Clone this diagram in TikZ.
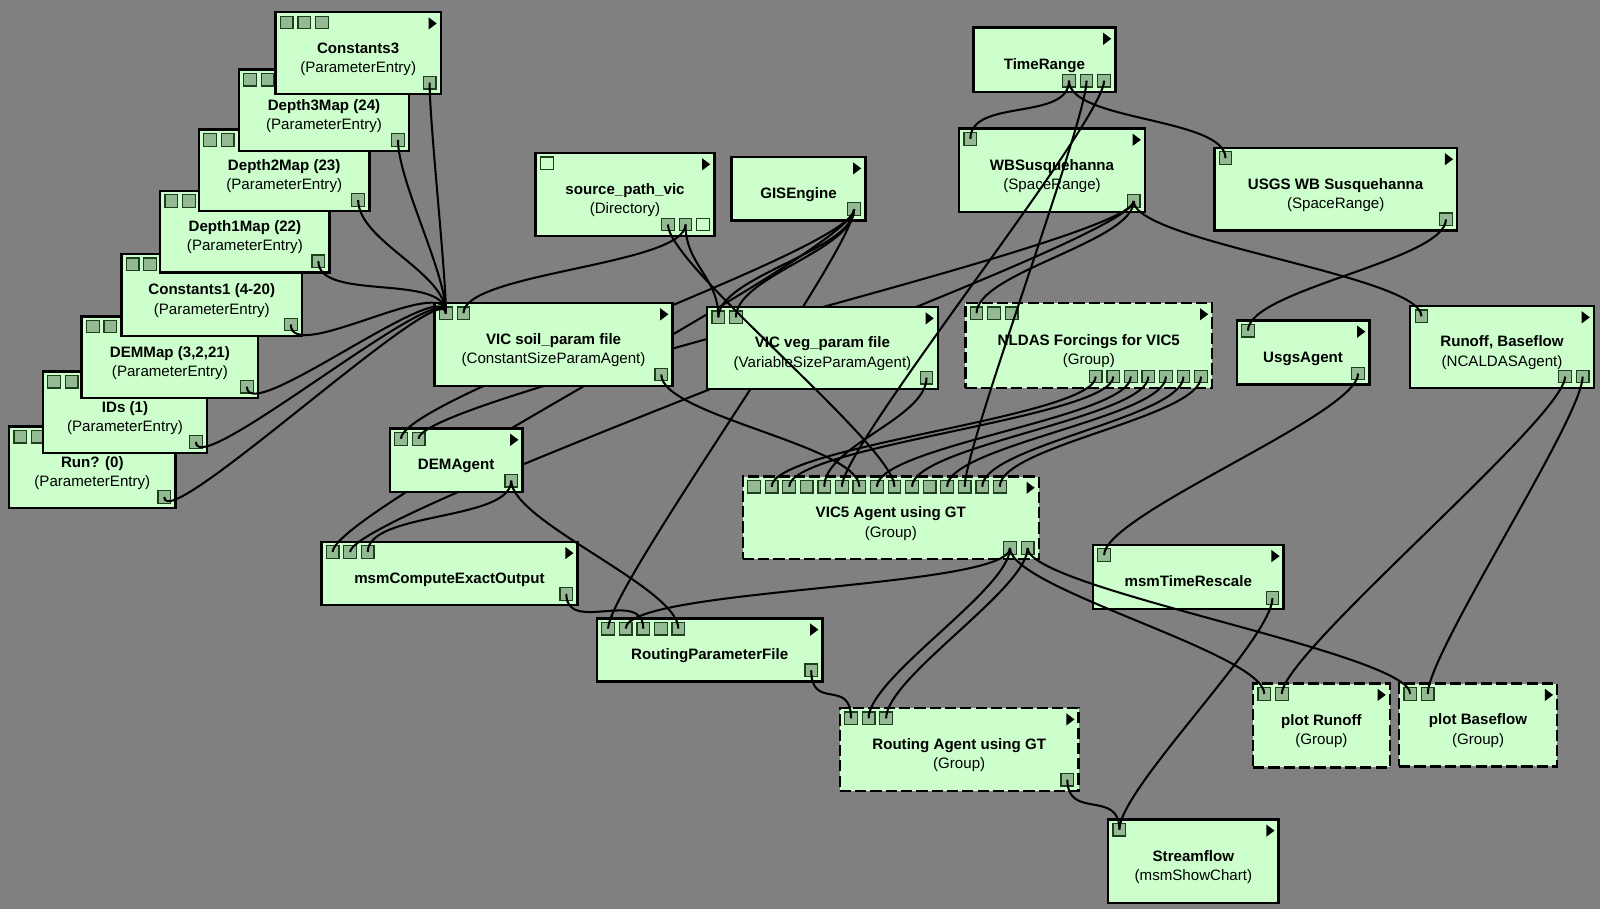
\documentclass[tikz,border=0pt]{standalone}
\usepackage{fontspec}
\setmainfont{Liberation Sans}
\usepackage{xcolor}
\usepackage{tikz}
\usetikzlibrary{calc, backgrounds}

\definecolor{tlo}{RGB}{128,128,128}
\definecolor{ziel}{RGB}{204,255,204}
\definecolor{portziel}{RGB}{148,186,148}
\definecolor{portbrzeg}{RGB}{30,62,30}

% porty wejsciowe (gora), wyjsciowe (dol), strzalka i polaczenie
\newcommand{\wej}[2]{\foreach \i in {1,...,#2}{\node[port] (#1-i\i) at ($(#1.north west)+({17.2*\i-6.2},10)$) {};}}
\newcommand{\wyj}[2]{\foreach \i in {1,...,#2}{\node[port] (#1-o\i) at ($(#1.south east)+({-11-17.2*(#2-\i)},-11)$) {};}}
\newcommand{\strz}[1]{\fill ($(#1.north east)+(-12,5)$) -- ++(8,6) -- ++(-8,6) -- cycle;}
\newcommand{\pol}[2]{\draw[polacz] (#1.center) .. controls +(0,40) and +(0,-40) .. (#2.center);}
\newcommand{\konce}[2]{\begin{scope}\clip (#1.center) circle (14) (#2.center) circle (14); \pol{#1}{#2}\end{scope}}
\newcommand{\tyt}[1]{\rule[-1.5pt]{0pt}{12.5pt}\textbf{#1}}

\begin{document}
\begin{tikzpicture}[x=0.5pt, y=-0.5pt,
  blok/.style={draw, line width=1.2pt, fill=ziel, anchor=north west, outer sep=0pt, inner sep=0pt, align=center, font=\fontsize{7.4}{9.5}\selectfont},
  grupa/.style={blok, dash pattern=on 5.5pt off 2pt},
  port/.style={draw=portbrzeg, fill=portziel, line width=0.6pt, minimum size=6.2pt, inner sep=0pt, outer sep=0pt},
  pusty/.style={port, fill=ziel},
  polacz/.style={draw, line width=1pt}]
\useasboundingbox (0,0) rectangle (1568,891);
\begin{scope}[on background layer]
\fill[tlo] (0,0) rectangle (1568,891);
\end{scope}

% kolumna parametrow
\node[blok, minimum width=81.5pt, minimum height=40pt] (run) at (9,418) {\tyt{Run? (0)}\\(ParameterEntry)};
\wej{run}{3}\wyj{run}{1}\strz{run}
\node[blok, minimum width=80.5pt, minimum height=40pt] (ids) at (42,364) {\tyt{IDs (1)}\\(ParameterEntry)};
\wej{ids}{3}\wyj{ids}{1}\strz{ids}
\node[blok, minimum width=86.5pt, minimum height=40pt] (demmap) at (80,310) {\tyt{DEMMap (3,2,21)}\\(ParameterEntry)};
\wej{demmap}{3}\wyj{demmap}{1}\strz{demmap}
\node[blok, minimum width=88.5pt, minimum height=40pt] (c1) at (119,249) {\tyt{Constants1 (4-20)}\\(ParameterEntry)};
\wej{c1}{3}\wyj{c1}{1}\strz{c1}
\node[blok, minimum width=83pt, minimum height=40pt] (d1) at (157,187) {\tyt{Depth1Map (22)}\\(ParameterEntry)};
\wej{d1}{3}\wyj{d1}{1}\strz{d1}
\node[blok, minimum width=83.5pt, minimum height=40pt] (d2) at (195,127) {\tyt{Depth2Map (23)}\\(ParameterEntry)};
\wej{d2}{3}\wyj{d2}{1}\strz{d2}
\node[blok, minimum width=83.5pt, minimum height=40pt] (d3) at (234,68) {\tyt{Depth3Map (24)}\\(ParameterEntry)};
\wej{d3}{3}\wyj{d3}{1}\strz{d3}
\node[blok, minimum width=81pt, minimum height=40pt] (c3) at (270,12) {\tyt{Constants3}\\(ParameterEntry)};
\wej{c3}{3}\wyj{c3}{1}\strz{c3}

% zrodla
\node[blok, minimum width=87.5pt, minimum height=40.5pt] (srcpath) at (525,150) {\tyt{source\_path\_vic}\\(Directory)};
\node[pusty] (srcpath-i1) at ($(srcpath.north west)+(11,10)$) {};
\wyj{srcpath}{3}\strz{srcpath}
\node[pusty] (srcpath-o3) at (srcpath-o3) {};
\node[blok, minimum width=65.5pt, minimum height=31pt] (gis) at (717,154) {\tyt{GISEngine}};
\wyj{gis}{1}\strz{gis}
\node[blok, minimum width=69.5pt, minimum height=31.5pt] (timer) at (954,27) {\tyt{TimeRange}};
\wyj{timer}{3}\strz{timer}
\node[blok, minimum width=91pt, minimum height=41pt] (wb) at (940,126) {\tyt{WBSusquehanna}\\(SpaceRange)};
\wej{wb}{1}\wyj{wb}{1}\strz{wb}
\node[blok, minimum width=119pt, minimum height=40.5pt] (usgswb) at (1190,145) {\tyt{USGS WB Susquehanna}\\(SpaceRange)};
\wej{usgswb}{1}\wyj{usgswb}{1}\strz{usgswb}

% agenci
\node[blok, minimum width=116.5pt, minimum height=40.5pt] (soil) at (426,297) {\tyt{VIC soil\_param file}\\(ConstantSizeParamAgent)};
\wej{soil}{2}\wyj{soil}{1}\strz{soil}
\node[blok, minimum width=113pt, minimum height=40pt] (veg) at (693,301) {\tyt{VIC veg\_param file}\\(VariableSizeParamAgent)};
\wej{veg}{2}\wyj{veg}{1}\strz{veg}
\node[grupa, minimum width=121pt, minimum height=41.5pt] (nldas) at (946,297) {\tyt{NLDAS Forcings for VIC5}\\(Group)};
\wej{nldas}{3}\wyj{nldas}{7}\strz{nldas}
\node[blok, minimum width=65pt, minimum height=31.5pt] (usgsag) at (1212,314) {\tyt{UsgsAgent}};
\wej{usgsag}{1}\wyj{usgsag}{1}\strz{usgsag}
\node[blok, minimum width=90pt, minimum height=40pt] (runoff) at (1382,300) {\tyt{Runoff, Baseflow}\\(NCALDASAgent)};
\wej{runoff}{1}\wyj{runoff}{2}\strz{runoff}
\node[blok, minimum width=65pt, minimum height=31pt] (demag) at (382,420) {\tyt{DEMAgent}};
\wej{demag}{2}\wyj{demag}{1}\strz{demag}
\node[blok, minimum width=125.5pt, minimum height=31pt] (msmceo) at (315,531) {\tyt{msmComputeExactOutput}};
\wej{msmceo}{3}\wyj{msmceo}{1}\strz{msmceo}
\node[blok, minimum width=110.5pt, minimum height=31pt] (rpf) at (585,606) {\tyt{RoutingParameterFile}};
\wej{rpf}{5}\wyj{rpf}{1}\strz{rpf}
\node[grupa, minimum width=145pt, minimum height=40.5pt] (vic5) at (728,467) {\tyt{VIC5 Agent using GT}\\(Group)};
\wej{vic5}{15}\wyj{vic5}{2}\strz{vic5}
\node[blok, minimum width=93.5pt, minimum height=31.5pt] (tres) at (1071,534) {\tyt{msmTimeRescale}};
\wej{tres}{1}\wyj{tres}{1}\strz{tres}
\node[grupa, minimum width=117pt, minimum height=40.5pt] (routing) at (823,694) {\tyt{Routing Agent using GT}\\(Group)};
\wej{routing}{3}\wyj{routing}{1}\strz{routing}
\node[blok, minimum width=83.5pt, minimum height=41pt] (stream) at (1086,803) {\tyt{Streamflow}\\(msmShowChart)};
\wej{stream}{1}\strz{stream}
\node[grupa, minimum width=67pt, minimum height=41pt] (plotr) at (1228,670) {\tyt{plot Runoff}\\(Group)};
\wej{plotr}{2}\strz{plotr}
\node[grupa, minimum width=77.5pt, minimum height=40.5pt] (plotb) at (1371,670) {\tyt{plot Baseflow}\\(Group)};
\wej{plotb}{2}\strz{plotb}

% polaczenia pod blokami
\begin{scope}[on background layer]
\pol{gis-o1}{demag-i1}
\pol{wb-o1}{demag-i2}
\pol{gis-o1}{msmceo-i1}
\pol{wb-o1}{msmceo-i2}
\pol{gis-o1}{rpf-i1}
\end{scope}
\konce{gis-o1}{demag-i1}
\konce{wb-o1}{demag-i2}
\konce{gis-o1}{msmceo-i1}
\konce{wb-o1}{msmceo-i2}
\konce{gis-o1}{rpf-i1}

% polaczenia
\foreach \p in {run,ids,demmap,c1,d1,d2,d3,c3} {\pol{\p-o1}{soil-i1}}
\pol{srcpath-o2}{soil-i2}
\pol{srcpath-o2}{veg-i1}
\pol{srcpath-o1}{vic5-i9}
\pol{gis-o1}{veg-i1}
\pol{gis-o1}{veg-i2}
\pol{timer-o1}{wb-i1}
\pol{timer-o1}{usgswb-i1}
\pol{timer-o2}{vic5-i13}
\pol{timer-o3}{vic5-i6}
\pol{wb-o1}{nldas-i1}
\pol{wb-o1}{runoff-i1}
\pol{usgswb-o1}{usgsag-i1}
\foreach \a/\b in {1/2, 2/3, 3/8, 4/10, 5/12, 6/14, 7/15} {\pol{nldas-o\a}{vic5-i\b}}
\pol{soil-o1}{vic5-i7}
\pol{veg-o1}{vic5-i5}
\pol{usgsag-o1}{tres-i1}
\pol{runoff-o1}{plotr-i2}
\pol{runoff-o2}{plotb-i2}
\pol{demag-o1}{msmceo-i3}
\pol{demag-o1}{rpf-i5}
\pol{msmceo-o1}{rpf-i3}
\pol{vic5-o1}{rpf-i2}
\pol{vic5-o1}{routing-i2}
\pol{vic5-o2}{routing-i3}
\pol{vic5-o1}{plotr-i1}
\pol{vic5-o2}{plotb-i1}
\pol{rpf-o1}{routing-i1}
\pol{routing-o1}{stream-i1}
\pol{tres-o1}{stream-i1}
\end{tikzpicture}
\end{document}
